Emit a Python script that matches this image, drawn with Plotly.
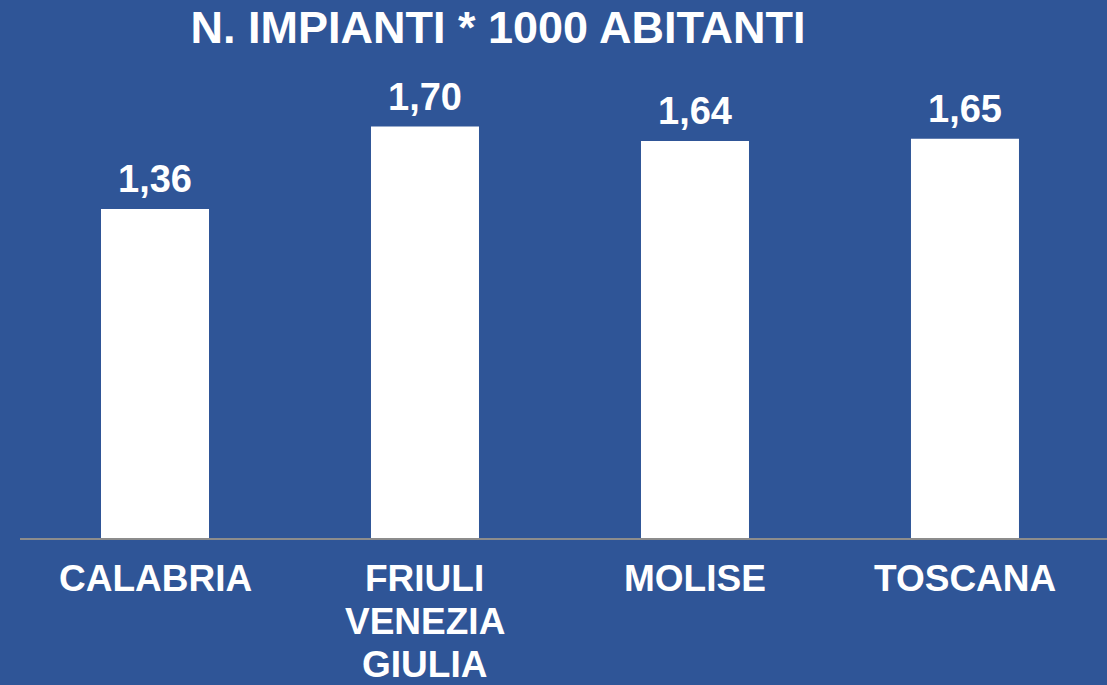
import plotly.graph_objects as go

categories = [["CALABRIA"], ["FRIULI", "VENEZIA", "GIULIA"], ["MOLISE"], ["TOSCANA"]]
values = [1.36, 1.70, 1.64, 1.65]
value_labels = ["1,36", "1,70", "1,64", "1,65"]
title_text = "N. IMPIANTI * 1000 ABITANTI"

BG = "#2F5597"
FONT = "Liberation Sans, Arial, sans-serif"

fig = go.Figure()
fig.add_trace(go.Bar(
    x=list(range(len(categories))),
    y=values,
    width=0.4,
    marker=dict(color="white", line=dict(width=0)),
    hoverinfo="skip",
))

for i, (v, t) in enumerate(zip(values, value_labels)):
    fig.add_annotation(
        x=i, y=v, text="<b>" + t + "</b>", showarrow=False,
        xanchor="center", yanchor="bottom", yshift=7,
        font=dict(family=FONT, size=38, color="white"),
    )

# category labels (one annotation per text line for tighter line spacing)
for i, lines in enumerate(categories):
    for j, line in enumerate(lines):
        fig.add_annotation(
            x=i, y=0, text="<b>" + line + "</b>", showarrow=False,
            xanchor="center", yanchor="top", yshift=-18 - 43 * j,
            font=dict(family=FONT, size=37, color="white"),
        )

fig.update_layout(
    width=1107, height=685,
    paper_bgcolor=BG, plot_bgcolor=BG,
    margin=dict(l=20, r=0, t=54, b=147),
    showlegend=False,
    title=dict(
        text="<b>" + title_text + "</b>",
        x=498 / 1107, xanchor="center", xref="container",
        y=1 - 27 / 685, yanchor="middle", yref="container",
        font=dict(family=FONT, size=45, color="white"),
    ),
    xaxis=dict(
        range=[-0.5, 3.526],
        tickmode="array",
        tickvals=list(range(len(categories))),
        showticklabels=False,
        showgrid=False, zeroline=False,
        showline=True, linecolor="#8C8C8C", linewidth=2,
        ticks="", ticklen=0,
    ),
    yaxis=dict(range=[0, 2.0], visible=False, showgrid=False, zeroline=False),
)

fig.write_html(
    "out.html",
    config={"displayModeBar": False},
    post_script="document.body.style.margin='0';document.body.style.background='%s';" % BG,
)
